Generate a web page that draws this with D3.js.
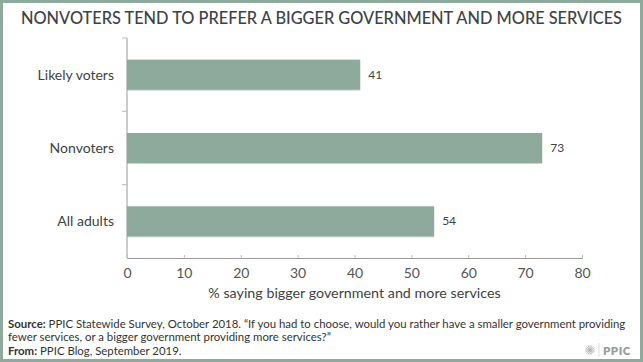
<!DOCTYPE html>
<html>
<head>
<meta charset="utf-8">
<script src="https://cdn.jsdelivr.net/npm/d3@7"></script>
<style>
  html, body { margin: 0; padding: 0; background: #fff; }
  svg { display: block; }
  text { font-family: Lato, "Open Sans", sans-serif; }
</style>
</head>
<body>
<svg id="chart" width="643" height="362"></svg>
<script>
const categories = ["Likely voters", "Nonvoters", "All adults"];
const values = [41, 73, 54];
const xTicks = [0, 10, 20, 30, 40, 50, 60, 70, 80];
const titleText = "NONVOTERS TEND TO PREFER A BIGGER GOVERNMENT AND MORE SERVICES";
const xAxisTitle = "% saying bigger government and more services";

const W = 643, H = 362;
const svg = d3.select("#chart");
const green = "#8eaa9c";
const textColor = "#3d4247";

// border
svg.append("rect").attr("x", 1.5).attr("y", 1.5).attr("width", W - 3).attr("height", H - 3)
  .attr("fill", "#fff").attr("stroke", green).attr("stroke-width", 3);

// title
svg.append("text").attr("x", W / 2).attr("y", 24).attr("text-anchor", "middle")
  .attr("font-size", 16.5).attr("font-weight", 500).attr("fill", "#3d4247")
  .attr("textLength", 601).attr("lengthAdjust", "spacingAndGlyphs")
  .text(titleText);

const x = d3.scaleLinear().domain([0, 80]).range([127, 582]);
const y = d3.scaleBand().domain(categories).range([38, 258]).paddingInner(0.59).paddingOuter(0.295);

// bars
const g = svg.append("g");
g.selectAll("rect.shadow").data(values).join("rect")
  .attr("class", "shadow")
  .attr("x", x(0)).attr("y", (d, i) => y(categories[i]) + 1)
  .attr("width", d => x(d) - x(0)).attr("height", y.bandwidth())
  .attr("fill", "#c9d8d0");
g.selectAll("rect.bar").data(values).join("rect")
  .attr("class", "bar")
  .attr("x", x(0)).attr("y", (d, i) => y(categories[i]))
  .attr("width", d => x(d) - x(0)).attr("height", y.bandwidth())
  .attr("fill", green);

// value labels
g.selectAll("text.val").data(values).join("text")
  .attr("class", "val")
  .attr("x", d => x(d) + 8).attr("y", (d, i) => y(categories[i]) + y.bandwidth() / 2 + 4)
  .attr("font-size", 12).attr("fill", textColor).text(d => d);

// y axis
const yAxisG = svg.append("g").attr("transform", `translate(${x(0)},0)`);
yAxisG.append("line").attr("x1", 0).attr("x2", 0).attr("y1", 38).attr("y2", 258)
  .attr("stroke", "#999").attr("stroke-width", 1);
const step = y.step();
const boundaries = [38, 38 + step, 38 + 2 * step];
yAxisG.selectAll("line.tk").data(boundaries).join("line")
  .attr("class", "tk")
  .attr("x1", -5).attr("x2", 0).attr("y1", d => d).attr("y2", d => d)
  .attr("stroke", "#bbb");
svg.selectAll("text.cat").data(categories).join("text")
  .attr("class", "cat")
  .attr("x", 114).attr("y", d => y(d) + y.bandwidth() / 2 + 5)
  .attr("text-anchor", "end").attr("font-size", 14).attr("fill", textColor).text(d => d);

// x axis
const xAxis = d3.axisBottom(x).tickValues(xTicks).tickSize(-3).tickPadding(8);
const xg = svg.append("g").attr("transform", "translate(0,258)").call(xAxis);
xg.select(".domain").attr("stroke", "#999");
xg.selectAll(".tick line").attr("stroke", "#bbb");
xg.selectAll(".tick text").attr("font-size", 14).attr("fill", "#555")
  .attr("font-family", "Lato, 'Open Sans', sans-serif").attr("dy", "0.85em");

svg.append("text").attr("x", (x(0) + x(80)) / 2).attr("y", 298).attr("text-anchor", "middle")
  .attr("font-size", 14.3).attr("fill", textColor).text(xAxisTitle);

// source
const src = svg.append("g").attr("font-size", 11.4).attr("fill", "#333");
const t1 = src.append("text").attr("x", 8).attr("y", 328);
t1.append("tspan").attr("font-weight", 700).text("Source:");
t1.append("tspan").text(" PPIC Statewide Survey, October 2018. \u201CIf you had to choose, would you rather have a smaller government providing");
src.append("text").attr("x", 8).attr("y", 341).text("fewer services, or a bigger government providing more services?\u201D");
const t3 = src.append("text").attr("x", 8).attr("y", 355);
t3.append("tspan").attr("font-weight", 700).text("From:");
t3.append("tspan").text(" PPIC Blog, September 2019.");

// logo
const logo = svg.append("g").attr("transform", "translate(590,350)");
for (let i = 0; i < 8; i++) {
  const a = i * Math.PI / 8;
  logo.append("line").attr("x1", -5 * Math.cos(a)).attr("y1", -5 * Math.sin(a))
    .attr("x2", 5 * Math.cos(a)).attr("y2", 5 * Math.sin(a))
    .attr("stroke", "#b5b5b5").attr("stroke-width", 0.8);
}
svg.append("line").attr("x1", 599).attr("x2", 599).attr("y1", 343).attr("y2", 357).attr("stroke", "#ddd");
svg.append("text").attr("x", 603).attr("y", 355).attr("font-size", 11.5).attr("font-weight", 800)
  .attr("fill", "#9a9a9a").attr("letter-spacing", 0.5).text("PPIC");
</script>
</body>
</html>
